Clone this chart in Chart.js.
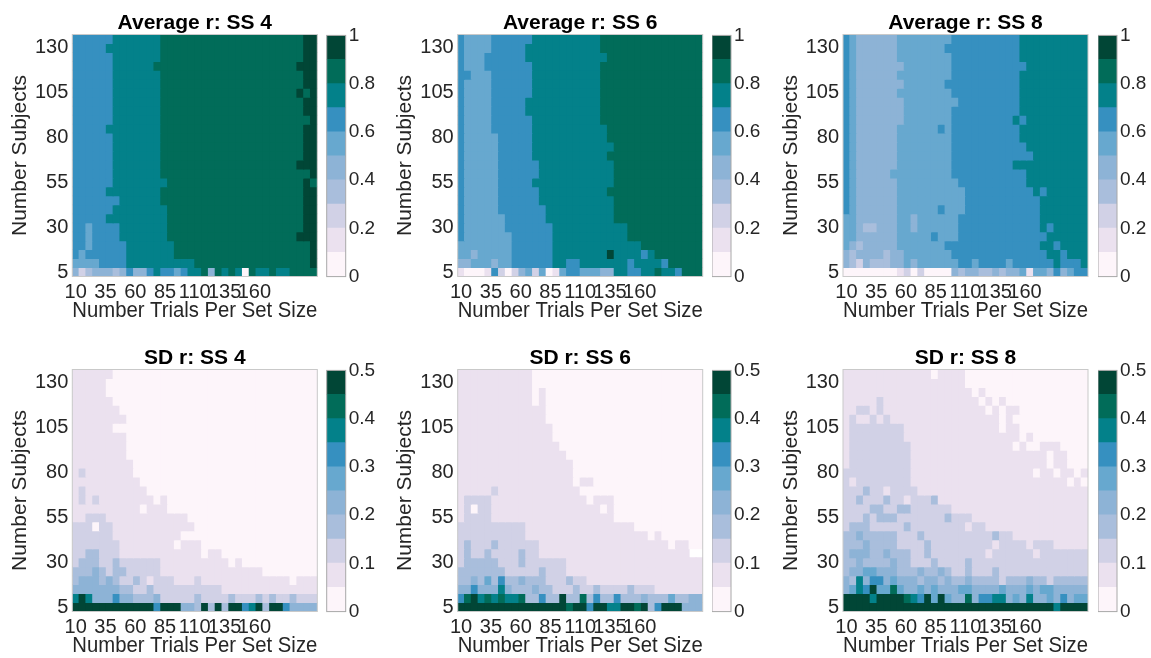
<!DOCTYPE html>
<html>
<head>
<meta charset="utf-8">
<script src="https://cdn.jsdelivr.net/npm/chart.js@4.4.1/dist/chart.umd.min.js"></script>
<style>
  html, body { margin: 0; padding: 0; background: #fff; overflow: hidden; width: 1151px; height: 658px; }
  canvas { position: absolute; }
</style>
</head>
<body>
<script>
// ---- data ----
const subjects = [5, 10, 15, 20, 25, 30, 35, 40, 45, 50, 55, 60, 65, 70, 75, 80, 85, 90, 95, 100, 105, 110, 115, 120, 125, 130, 135];
const trialsFirstLast = [10, 210]; // centre of first and last column
const xTicks = [10, 35, 60, 85, 110, 135, 160];
const yTicks = [5, 30, 55, 80, 105, 130];
const avgTicks = [0, 0.2, 0.4, 0.6, 0.8, 1];
const sdTicks = [0, 0.1, 0.2, 0.3, 0.4, 0.5];
const binColours = ['#fdf5fa', '#ebe1ef', '#d1d1e6', '#a9bedc', '#8db3d6', '#67a8cf', '#3690c0', '#03818a', '#016c59', '#014636'];
const titles = ['Average r: SS 4', 'Average r: SS 6', 'Average r: SS 8', 'SD r: SS 4', 'SD r: SS 6', 'SD r: SS 8'];

// colour bin of every cell (0-9), run-length coded "bin*count", top row (135 subjects) first
const avgSS4 = [
  '6*6 7*7 8*21 9*2', '6*5 7*8 8*21 9*2', '6*6 7*7 8*21 9*2', '6*6 7*6 8*21 9*3',
  '6*6 7*7 8*21 9*2', '6*6 7*7 8*21 9*2', '6*6 7*7 8*20 9 8 9', '6*6 7*7 8*21 9*2',
  '6*6 7*7 8*21 9*2', '6*6 7*7 8*22 9', '6*5 7*8 8*21 9*2', '6*6 7*7 8*21 9*2',
  '6*6 7*7 8*21 9*2', '6*6 7*7 8*21 9*2', '6*6 7*7 8*20 9*3', '6*6 7*7 8*22 9',
  '6*6 7*8 8*20 9 8', '6*5 7*8 8*21 9*2', '6*7 7*6 8*21 9*2', '6*6 7*8 8*20 9*2',
  '6*5 7*9 8*20 9*2', '6*2 5 6*4 7*7 8*20 9*2', '6*2 5 6*4 7*7 8*19 9*3', '6*2 5 6*5 7*7 8*20 9',
  '6 5 6*6 7*7 8*20 9', '5*4 6*4 7*10 8*17 9',
  '4 2 3 4 4 4 3 4 6 4 4 6 7 6 6 5 6 7 7 8 4 8 7 8 7 0 8 7 7 8 7 7 8 8 8 8'
];
const avgSS6 = [
  '6 5*4 6*6 7*10 8*15', '6 5*4 6*5 7*11 8*15', '6 5*3 6*6 7*12 8*14', '6 5*3 6*7 7*10 8*15',
  '6*2 5*3 6*6 7*10 8*15', '6 5*4 6*6 7*10 8*15', '6 5*4 6*6 7*10 8*15', '6 5*4 6*5 7*11 8*15',
  '6 5*4 6*5 7*11 8*15', '6 5*4 6*6 7*10 8*15', '6 5*4 6*6 7*11 8*14', '6 5*5 6*5 7*11 8*14',
  '6 5*5 6*5 7*12 8*13', '6 5*5 6*5 7*11 8*14', '6 5*5 6*6 7*11 8*13', '6 5*5 6*6 7*11 8*13',
  '6 5*5 6*5 7*12 8*13', '6 5*5 6*6 7*10 8*14', '6 5*5 6*6 7*11 8*13', '6 5*5 6*7 7*10 8*13',
  '6 5*6 6*6 7*10 8*13', '6 5*6 6*7 7*11 8*11', '6 5*7 6*6 7*11 8*11', '5*8 6*6 7*13 8*9',
  '5*2 4 5*5 6*6 7*8 9 7*4 6 7 8*7',
  '4 4 5 5 5 4 5 5 6 6 6 6 6 6 7 7 6 6 7 7 7 7 7 7 7 6 7 7 7 7 6 8 8 8 8 8',
  '1 0 0 0 1 6 2 0 2 4 5 2 5 0 1 5 6 6 5 5 5 4 4 7 7 6 6 7 7 8 7 7 6 8 8 8'
];
const avgSS8 = [
  '6 5 4*6 5*8 6*10 7*10', '6 5 4*6 5*7 6*11 7*10', '6 5 4*6 5*8 6*10 7*10', '6 5 4*7 5*7 6*11 7*9',
  '6 5 4*6 5*8 6*10 7*10', '6 5 4*7 5*6 6*11 7*10', '6 5 4*6 5*8 6*10 7*10', '6 5 4*7 5*8 6*9 7*10',
  '6 5 4*7 5*7 6*10 7*10', '6 5 4*7 5*7 6*9 7 6 7*9', '6 5 4*6 5*6 6 5 6*10 7*10', '6 5 4*6 5*8 6*10 7*10',
  '6 5 4*6 5*8 6*11 7*9', '6 5 4*6 5*8 6*12 7*8', '6 5 4*6 5*8 6*9 7*11', '6 5 4*5 5*9 6*11 7*9',
  '6 5 4*6 5*9 6*10 7*9', '6 5 4*6 5*10 6*10 7 6 7*6', '6 5 4*6 5*10 6*11 7*7', '6 5 4*6 5*6 6 5*3 6*11 7*7',
  '5*2 4*6 5*2 4 5*6 6*12 7*7', '5*2 4 3*2 4*3 5*2 4 5*6 6*12 7 6 7*5', '5*2 4*6 5*5 6 5*3 6*13 7*6',
  '5 4 3 4*5 5*7 6*14 7*2 6 7*4', '4 3 4*4 3 4*2 5*7 6*14 7*2 6 7*3',
  '4 3 2 4 3 3 3 4 4 5 4 5 5 5 5 5 5 6 6 5 6 6 6 6 5 6 6 6 6 6 6 7 6 6 6 7',
  '0*8 1 2 0 2 0*4 4 3 4 4 3 3 4 3 4 4 5 1 5 5 4 6 4 5 6 6'
];
const sdSS4 = [
  '1*6 0*30', '1*5 0*31', '1*5 0*31', '1*6 0*30', '1*7 0*29', '1*8 0*28', '1*6 0*30', '1*8 0*28',
  '1*8 0*28', '1*8 0*28', '1*9 0*27', '1 2 1*7 0*27', '1*10 0*26', '1 2 1*9 0*25',
  '1 2 1 2 1*8 0 1 0*22', '1*10 0 1*3 0*22', '1*2 2*3 1*12 0*19', '2*3 0 2*2 1*12 0*18',
  '2*6 1*10 0*20', '2*7 1*8 0 1*3 0*17', '2*2 3*2 2*3 1*12 0 1*2 0*14', '2 3*3 2*2 3 2*6 1*10 0 1 0*11',
  '3*3 4 3 2 3*2 2*5 1*15 0*8', '3 4*3 3 4 3 2*2 3 2 1 2*3 1*3 2 1*13 0 1*3',
  '4*7 3*2 2*2 3 2*10 1*14', '7 9 7 4*3 6 4*2 3*3 4 2*5 3 2*4 3 2*3 3 2 3 2*2 3 2 2*2',
  '9*12 6 9*3 4*2 3 9 3 9 3 9*2 6 7 9 3 9*2 6 4*4'
];
const sdSS6 = [
  '1*11 0*25', '1*11 0*25', '1*11 0 1 0*23', '1*11 0 1 0*23', '1*13 0*23', '1*13 0*23', '1*14 0*22',
  '1*14 0*22', '1*15 0*21', '1*16 0*20', '1*17 0*19', '1*17 0*19', '1*17 0 1*2 0*16', '1*5 2 1*12 0*18',
  '1 2*4 1*14 0 1*3 0*13', '1 2 0 2*2 1*16 0 1 0*13', '1 2*4 1*18 0*13', '2*10 1*16 0*10',
  '2*10 1*18 0 1 0*6', '2 3 2*3 3 2*6 1*19 0 1*2 0*2', '2 3 2*2 3 2*4 3 2*2 1*22', '2 3*5 2*3 3 2*6 1*20',
  '3*7 2*5 3 2*3 1*20', '3*2 4 3 5 3 6 3*2 4 3*3 2*3 3 2*2 1*17',
  '4*2 6 4*3 7 4 3*3 4 3*2 2*3 3 2*2 3 2*4 3 2*3 1*7',
  '6 8 9 7 8 7 8 7 7 8 3 3 6 3 3 9 3 3 8 3 6 3 3 6 3 3 3 4 3 3 3 5 3 3 4 4',
  '9*16 8 9*2 6 9*2 7*2 9*2 8 9 3 6 9*3 4*3'
];
const sdSS8 = [
  '1*13 0 1*4 0*18', '1*18 0*18', '1*19 0 1 0*15', '1*5 2 1*14 0 1 0 1 0*12',
  '1*2 2*2 1 2 1*15 0 1 0 1*2 0*10', '1 2 1*2 2 1 2 1*16 0 1 0*11', '1 2*8 1*14 0 1*2 0*10',
  '1 2*8 1*17 0 1 0*8', '1 2*9 1*15 0 1 0*2 1*3 0*4', '1 2*9 1*20 0 1*2 0*3', '1 2*9 1*20 0 1*2 0*3',
  '2*10 1*18 0 1*2 0 1*2 0 1', '2 1 2*8 1*23 0 1 0', '2*3 3 2*2 1 2*4 1*25', '2*2 3 2*3 3 2*2 1 2*3 3 1*22',
  '2*4 3*2 2*2 3*2 2*6 1*20', '2*3 3 2 3*3 2*7 3 2*3 1*17', '2 3*3 2*5 3 2*8 1 2*2 1*15',
  '3*2 4 3*5 2*3 3 2*10 3 2*2 1*11', '3*3 4 3*4 2*4 3 2*9 1 2*4 1 2*3 1*5',
  '3 4*3 3*2 4 3*3 2*2 3 2*8 1 2*6 1 2*7', '3*2 4 3*4 4 3*2 2*3 3 2*4 3 2*17',
  '3 4*2 5*2 4*3 3*3 4 3*2 4 3 2*2 3 2*3 3 2*13',
  '4 3 7 4 6*2 4 5 4*3 3 4*2 3 4 3*2 4 3*4 2 3*3 4 3*2 2 3 3*4',
  '4 5 7 6 9 5*2 8 5 4*2 5 4 5 4*3 5*2 4*4 5 4*3 5 4 5*2 4 4*4',
  '9*4 7 9*4 8 7 6 9 5 9 5 4*2 8 4 6*2 7*2 4 5 4 7 4*2 5 4 6 4 5*2',
  '9*31 7 9*4'
];

// ---- layout ----
const panelLeft = [72.3, 457.7, 843.0];
const panelTop = [34.5, 369.5];
const panelW = 245, panelH = 242;
const barLeft = [326.7, 712.0, 1098.0];
const barW = 19;
const FONT = "'Liberation Sans', Arial, Helvetica, sans-serif";
const INK = '#262626';

Chart.defaults.font.family = FONT;
Chart.defaults.animation = false;
Chart.defaults.responsive = false;

function decodeRow(spec) {
  const out = [];
  spec.trim().split(/\s+/).forEach(tok => {
    const [b, n] = tok.split('*');
    for (let i = 0; i < (n ? +n : 1); i++) out.push(+b);
  });
  return out;
}

const boxPlugin = {
  id: 'box',
  afterDraw(chart, args, opts) {
    const {ctx, chartArea: a} = chart;
    ctx.save();
    ctx.strokeStyle = opts.color;
    ctx.lineWidth = 1;
    ctx.strokeRect(a.left, a.top, a.right - a.left, a.bottom - a.top);
    ctx.restore();
  }
};

function makeCanvas(left, top, w, h) {
  const c = document.createElement('canvas');
  c.width = w; c.height = h;
  c.style.left = left + 'px'; c.style.top = top + 'px';
  c.style.width = w + 'px'; c.style.height = h + 'px';
  document.body.appendChild(c);
  return c;
}

function heatmap(col, row, title, grid, maxVal) {
  const L = panelLeft[col], T = panelTop[row];
  const cLeft = Math.floor(L) - 72, yw = L - cLeft;
  const cW = Math.ceil(yw + panelW + 3), cH = 323;
  const canvas = makeCanvas(cLeft, T - 34.5, cW, cH);
  const nCols = decodeRow(grid[0]).length;
  const binW = maxVal / 10;
  const xHalf = (trialsFirstLast[1] - trialsFirstLast[0]) / (nCols - 1) / 2;
  const yHalf = (subjects[1] - subjects[0]) / 2;
  const datasets = grid.map((spec, r) => {
    const bins = decodeRow(spec);
    const s = subjects[subjects.length - 1 - r];
    const values = bins.map(b => (b + 0.5) * binW);
    return {
      xAxisID: 'xc', yAxisID: 'y',
      data: values.map(() => [s - yHalf, s + yHalf]),
      backgroundColor: values.map(v => binColours[Math.min(9, Math.floor(v / binW))]),
      borderWidth: 0, inflateAmount: 0.5,
      barPercentage: 1, categoryPercentage: 1, grouped: false
    };
  });
  new Chart(canvas, {
    type: 'bar',
    data: {labels: Array.from({length: nCols}, (_, i) => String(i)), datasets},
    options: {
      layout: {padding: {left: 0, right: cW - yw - panelW, top: 0, bottom: 0}},
      events: [],
      plugins: {
        legend: {display: false}, tooltip: {enabled: false},
        title: {display: true, text: title, color: '#000', fullSize: false,
          font: {size: 21, weight: 'bold', lineHeight: 1}, padding: {top: 12.5, bottom: 1}},
        box: {color: '#c9c9c9'}
      },
      scales: {
        xc: {type: 'category', display: false, offset: true},
        x: {
          type: 'linear', position: 'bottom', offset: false, bounds: 'data',
          min: trialsFirstLast[0] - xHalf, max: trialsFirstLast[1] + xHalf,
          grid: {display: false, drawTicks: false, offset: false}, border: {display: false},
          afterBuildTicks: s => { s.ticks = xTicks.map(v => ({value: v})); },
          ticks: {color: INK, font: {size: 20}, padding: 4, autoSkip: false, maxRotation: 0, minRotation: 0},
          title: {display: true, text: 'Number Trials Per Set Size', color: INK,
            font: {size: 22, lineHeight: 1}, padding: {top: 0, bottom: 0.8}},
          afterFit: s => { s.height = cH - 34.5 - panelH; }
        },
        y: {
          type: 'linear', position: 'left', beginAtZero: false,
          min: subjects[0] - yHalf, max: subjects[subjects.length - 1] + yHalf,
          grid: {display: false, drawTicks: false}, border: {display: false},
          afterBuildTicks: s => { s.ticks = yTicks.map(v => ({value: v})); },
          ticks: {color: INK, font: {size: 20}, padding: 4, autoSkip: false},
          title: {display: true, text: 'Number Subjects', color: INK,
            font: {size: 21, lineHeight: 1}, padding: {top: 9.5, bottom: 0}},
          afterFit: s => { s.width = yw; }
        }
      }
    },
    plugins: [boxPlugin]
  });
}

function colourbar(col, row, ticks) {
  const L = barLeft[col], T = panelTop[row];
  const cLeft = Math.floor(L), padL = L - cLeft;
  const cW = 70, pad = 14, cH = panelH + 2 * pad;
  const canvas = makeCanvas(cLeft, T - pad, cW, cH);
  const maxVal = ticks[ticks.length - 1];
  const binW = maxVal / binColours.length;
  new Chart(canvas, {
    type: 'bar',
    data: {
      labels: [''],
      datasets: binColours.map(c => ({data: [binW], backgroundColor: c, borderWidth: 0,
        inflateAmount: 0.5, barPercentage: 1, categoryPercentage: 1}))
    },
    options: {
      layout: {padding: {left: padL, right: 0, top: pad, bottom: pad}},
      events: [],
      plugins: {legend: {display: false}, tooltip: {enabled: false}, box: {color: '#a8a8a8'}},
      scales: {
        x: {display: false, stacked: true, offset: true},
        y: {
          stacked: true, position: 'right', min: 0, max: maxVal, beginAtZero: true,
          grid: {display: false, drawTicks: false}, border: {display: false},
          afterBuildTicks: s => { s.ticks = ticks.map(v => ({value: v})); },
          ticks: {color: INK, font: {size: 19}, padding: 3, autoSkip: false,
            callback: v => String(+Number(v).toFixed(2))},
          afterFit: s => { s.width = cW - padL - barW; }
        }
      }
    },
    plugins: [boxPlugin]
  });
}

const grids = [avgSS4, avgSS6, avgSS8, sdSS4, sdSS6, sdSS8];
grids.forEach((g, i) => {
  const col = i % 3, row = Math.floor(i / 3);
  const ticks = row === 0 ? avgTicks : sdTicks;
  heatmap(col, row, titles[i], g, ticks[ticks.length - 1]);
  colourbar(col, row, ticks);
});
</script>
</body>
</html>
